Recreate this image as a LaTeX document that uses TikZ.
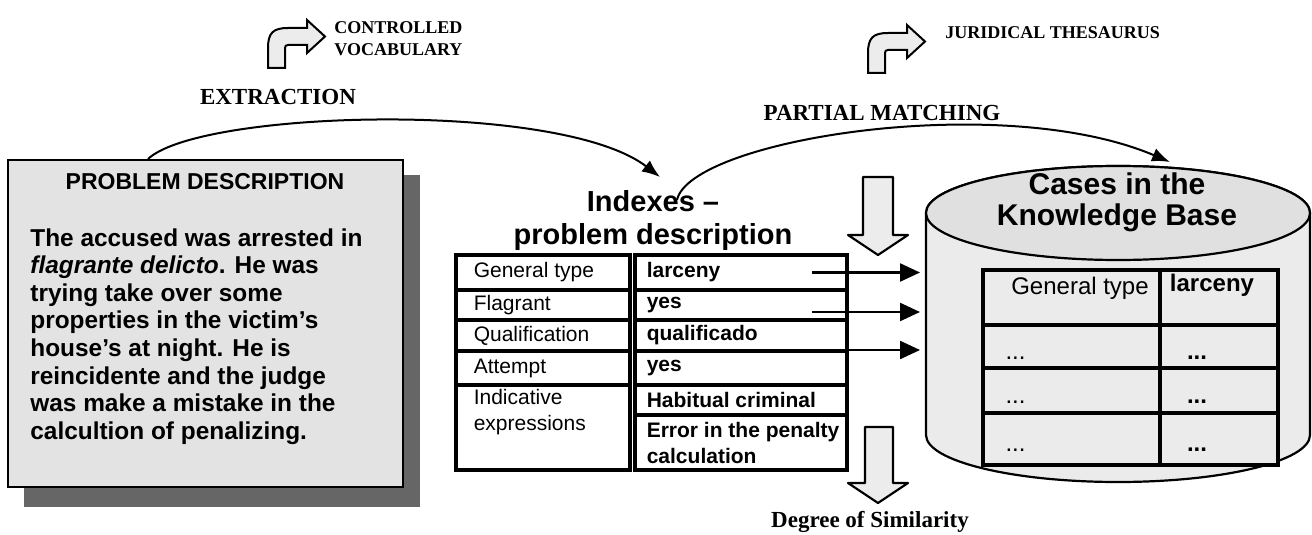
\documentclass[tikz,border=0pt]{standalone}
\usepackage{fontspec}
\setmainfont{Liberation Serif}
\setsansfont{Liberation Sans}
\usetikzlibrary{arrows.meta}
\tikzstyle{toplbl}=[font=\bfseries\fontsize{9}{11}\selectfont, inner sep=0pt]
\tikzstyle{steplbl}=[font=\bfseries\fontsize{11.5}{14}\selectfont, inner sep=0pt]
\tikzstyle{bent}=[draw, line width=1pt, fill=gray!15]
\tikzstyle{blockarrow}=[draw, line width=1.1pt, fill=gray!15, line join=round]
\tikzstyle{probbox}=[draw, line width=1pt, fill=gray!22, minimum width=197.5pt, minimum height=163.5pt]
\tikzstyle{probshadow}=[fill=gray!80!black, minimum width=198pt, minimum height=166pt]
\tikzstyle{boxtitle}=[font=\sffamily\bfseries\fontsize{11.5}{13}\selectfont, inner sep=0pt]
\tikzstyle{boxtext}=[font=\sffamily\bfseries\fontsize{12.2}{13.8}\selectfont, align=left, inner sep=0pt]
\tikzstyle{idxtitle}=[font=\sffamily\bfseries\fontsize{14.5}{16.5}\selectfont, align=center, inner sep=0pt]
\tikzstyle{cell}=[draw, line width=1.6pt, inner sep=0pt]
\tikzstyle{kbcell}=[cell, fill=gray!16]
\tikzstyle{celltxt}=[font=\sffamily\fontsize{10.5}{13}\selectfont, inner sep=0pt, align=left]
\tikzstyle{cellval}=[celltxt, font=\sffamily\bfseries\fontsize{10.5}{13}\selectfont]
\tikzstyle{kbbody}=[draw, line width=1.1pt, fill=gray!16]
\tikzstyle{kbtitle}=[font=\sffamily\bfseries\fontsize{15}{15.5}\selectfont, align=center, inner sep=0pt]
\tikzstyle{kbtxt}=[font=\sffamily\fontsize{12}{14}\selectfont, inner sep=0pt]
\tikzstyle{kbval}=[kbtxt, font=\sffamily\bfseries\fontsize{12}{14}\selectfont]
\tikzstyle{flow}=[line width=1pt, -{Latex[length=9pt,width=7pt]}]
\tikzstyle{harrow}=[line width=1.2pt, -{Triangle[length=10pt,width=9pt]}]

\begin{document}
\begin{tikzpicture}[x=0.5pt, y=-0.5pt]
    \useasboundingbox (0,0) rectangle (1312,535);

    \draw[bent, shift={(268,28)}] (0,40) -- (0,20) .. controls (0,5) and (5,0) .. (20,0) -- (39,0) -- (39,-8) -- (57,8.5) -- (39,25) -- (39,17) -- (20,17) .. controls (18,17) and (17,18) .. (17,20) -- (17,40) -- cycle;
    \draw[bent, shift={(868,33)}] (0,40) -- (0,20) .. controls (0,5) and (5,0) .. (20,0) -- (39,0) -- (39,-8) -- (57,8.5) -- (39,25) -- (39,17) -- (20,17) .. controls (18,17) and (17,18) .. (17,20) -- (17,40) -- cycle;
    \node[toplbl, anchor=west, align=left] (cv) at (334,39) {CONTROLLED\\VOCABULARY};
    \node[toplbl, anchor=west] (jt) at (945,33) {JURIDICAL THESAURUS};
    \node[steplbl] (ext) at (278,97) {EXTRACTION};
    \node[steplbl] (pm) at (882,113) {PARTIAL MATCHING};
    \node[steplbl] (deg) at (870,522) {Degree of Similarity};

    \node[probshadow] (probsh) at (221.5,340.5) {};
    \node[probbox] (prob) at (205.5,323.5) {};
    \node[boxtitle] (probt) at (205,182) {PROBLEM DESCRIPTION};
    \node[boxtext, anchor=north west] (probx) at (30,228) {The accused was arrested in\\\textit{flagrante delicto}. He was\\trying take over some\\properties in the victim's\\house's at night. He is\\reincidente and  the judge\\was make a mistake in the\\calcultion of penalizing.};

    \node[idxtitle] (idx) at (653,221) {Indexes –\\problem description};
    \node[cell, minimum width=87pt, minimum height=17.5pt] (gt) at (543,272.5) {};
    \node[cell, minimum width=106pt, minimum height=17.5pt] (gtv) at (741,272.5) {};
    \node[cell, minimum width=87pt, minimum height=15pt] (fl) at (543,305) {};
    \node[cell, minimum width=106pt, minimum height=15pt] (flv) at (741,305) {};
    \node[cell, minimum width=87pt, minimum height=15.5pt] (qu) at (543,335.5) {};
    \node[cell, minimum width=106pt, minimum height=15.5pt] (quv) at (741,335.5) {};
    \node[cell, minimum width=87pt, minimum height=17pt] (at) at (543,368) {};
    \node[cell, minimum width=106pt, minimum height=17pt] (atv) at (741,368) {};
    \node[cell, minimum width=87pt, minimum height=42.5pt] (ie) at (543,427.5) {};
    \node[cell, minimum width=106pt, minimum height=15pt] (iev1) at (741,400) {};
    \node[cell, minimum width=106pt, minimum height=27.5pt] (iev2) at (741,442.5) {};
    \node[celltxt, anchor=west] at ([xshift=9.5pt]gt.west) {General type};
    \node[celltxt, anchor=west] at ([xshift=9.5pt]fl.west) {Flagrant};
    \node[celltxt, anchor=west] at ([xshift=9.5pt]qu.west) {Qualification};
    \node[celltxt, anchor=west] at ([xshift=9.5pt]at.west) {Attempt};
    \node[celltxt, anchor=west] at ([xshift=9.5pt,yshift=7.5pt]ie.west) {Indicative\\expressions};
    \node[cellval, anchor=west] at ([xshift=6.5pt]gtv.west) {larceny};
    \node[cellval, anchor=west] at ([xshift=6.5pt]flv.west) {yes};
    \node[cellval, anchor=west] at ([xshift=6.5pt]quv.west) {qualificado};
    \node[cellval, anchor=west] at ([xshift=6.5pt]atv.west) {yes};
    \node[cellval, anchor=west] at ([xshift=6.5pt]iev1.west) {Habitual criminal};
    \node[cellval, anchor=west] at ([xshift=6.5pt]iev2.west) {Error in the penalty\\calculation};

    \draw[kbbody] (926,213) -- (926,435) arc[start angle=180, end angle=360, x radius=96pt, y radius=23.5pt] -- (1310,213) arc[start angle=0, end angle=180, x radius=96pt, y radius=23.5pt] -- cycle;
    \draw[kbbody, fill=gray!24] (1118,213) ellipse [x radius=96pt, y radius=23.5pt];
    \node[kbtitle] (kbt) at (1117,202) {Cases in the\\Knowledge Base};
    \node[kbcell, minimum width=88.5pt, minimum height=27.5pt] (kc1) at (1071.5,297.5) {};
    \node[kbcell, minimum width=59pt, minimum height=27.5pt] (kv1) at (1219,297.5) {};
    \node[kbcell, minimum width=88.5pt, minimum height=21.5pt] (kc2) at (1071.5,346.5) {};
    \node[kbcell, minimum width=59pt, minimum height=21.5pt] (kv2) at (1219,346.5) {};
    \node[kbcell, minimum width=88.5pt, minimum height=22.5pt] (kc3) at (1071.5,390.5) {};
    \node[kbcell, minimum width=59pt, minimum height=22.5pt] (kv3) at (1219,390.5) {};
    \node[kbcell, minimum width=88.5pt, minimum height=26pt] (kc4) at (1071.5,439) {};
    \node[kbcell, minimum width=59pt, minimum height=26pt] (kv4) at (1219,439) {};
    \node[kbtxt] at ([xshift=4.25pt,yshift=4.75pt]kc1.center) {General type};
    \node[kbval] at ([xshift=-3.5pt,yshift=6.25pt]kv1.center) {larceny};
    \node[kbtxt] at ([xshift=-28pt,yshift=-5.75pt]kc2.center) {...};
    \node[kbval] at ([xshift=-11pt,yshift=-5.5pt]kv2.center) {...};
    \node[kbtxt] at ([xshift=-28pt,yshift=-5.75pt]kc3.center) {...};
    \node[kbval] at ([xshift=-11pt,yshift=-5.5pt]kv3.center) {...};
    \node[kbtxt] at ([xshift=-28pt,yshift=-5.75pt]kc4.center) {...};
    \node[kbval] at ([xshift=-11pt,yshift=-5.5pt]kv4.center) {...};

    \coordinate (kb1) at (920,272.5);
    \coordinate (kb2) at (920,312);
    \coordinate (kb3) at (920,350);
    \draw[harrow] ([xshift=-18.5pt]gtv.east) -- (kb1);
    \draw[harrow] ([xshift=-18.5pt,yshift=-3.5pt]flv.east) -- (kb2);
    \draw[harrow] ([xshift=-18.5pt,yshift=-7.25pt]quv.east) -- (kb3);

    \draw[blockarrow] (863,177) -- (893,177) -- (893,235) -- (908,235) -- (878,255) -- (848,235) -- (863,235) -- cycle;
    \draw[blockarrow] (865,427) -- (893,427) -- (893,483) -- (908,483) -- (878,503) -- (848,483) -- (865,483) -- cycle;

    \coordinate (t1) at (660,177);
    \coordinate (t2) at (1170,162);
    \draw[flow] ([xshift=-28.75pt]prob.north) .. controls (200,110) and (560,100) .. (t1);
    \draw[flow] ([xshift=12pt,yshift=10.5pt]idx.center) .. controls (690,140) and (1000,90) .. (t2);
\end{tikzpicture}
\end{document}
